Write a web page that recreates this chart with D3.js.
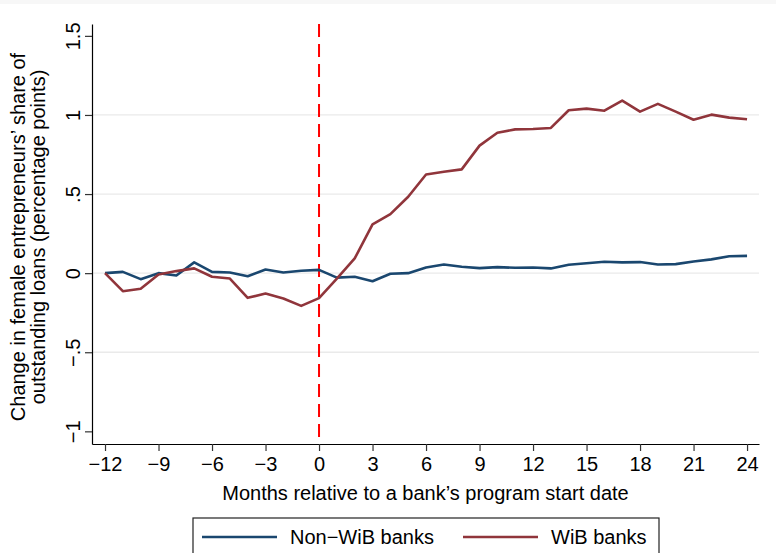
<!DOCTYPE html>
<html>
<head>
<meta charset="utf-8">
<script src="https://cdn.jsdelivr.net/npm/d3@7"></script>
<style>
  html, body { margin: 0; padding: 0; background: #fff; }
  svg { display: block; font-family: "Liberation Sans", Arial, Helvetica, sans-serif; }
</style>
</head>
<body>
<svg id="chart" width="776" height="553"></svg>
<script>
const months = [-12,-11,-10,-9,-8,-7,-6,-5,-4,-3,-2,-1,0,1,2,3,4,5,6,7,8,9,10,11,12,13,14,15,16,17,18,19,20,21,22,23,24];
const nonWiB = [0, 0.008, -0.038, 0, -0.015, 0.068, 0.008, 0.004, -0.019, 0.023, 0.004, 0.015, 0.021,
  -0.028, -0.023, -0.051, -0.004, 0, 0.036, 0.055, 0.04, 0.032, 0.038, 0.034, 0.036, 0.03,
  0.053, 0.063, 0.072, 0.068, 0.07, 0.055, 0.057, 0.074, 0.087, 0.107, 0.109];
const wib = [0, -0.114, -0.099, -0.008, 0.013, 0.03, -0.023, -0.034, -0.156, -0.129, -0.16, -0.207, -0.158,
  -0.035, 0.093, 0.308, 0.373, 0.483, 0.624, 0.641, 0.656, 0.806, 0.888, 0.909, 0.911, 0.918,
  1.03, 1.04, 1.027, 1.091, 1.021, 1.07, 1.021, 0.97, 1.002, 0.983, 0.973];
const xTicks = [-12,-9,-6,-3,0,3,6,9,12,15,18,21,24];
const yTicks = [-1,-0.5,0,0.5,1,1.5];
const yTickLabels = ["\u22121","\u2212.5","0",".5","1","1.5"];
const gridValues = [-0.5,0,0.5,1];
const seriesNames = ["Non\u2212WiB banks","WiB banks"];
const seriesColors = ["#1a476f","#90353b"];
const xTitle = "Months relative to a bank\u2019s program start date";
const yTitle = ["Change in female entrepreneurs\u2019 share of","outstanding loans (percentage points)"];
const eventMonth = 0;

const svg = d3.select("#chart");
const FS = 20;

svg.append("rect").attr("x",0).attr("y",0).attr("width",776).attr("height",4).attr("fill","#f7f7f7");

const x = d3.scaleLinear().domain([-12.73, 24.67]).range([92, 759]);
const y = d3.scaleLinear().domain([-1.08, 1.575]).range([444, 24]);

// gridlines
svg.append("g").selectAll("line").data(gridValues).join("line")
  .attr("x1", x.range()[0]).attr("x2", x.range()[1])
  .attr("y1", d => y(d)).attr("y2", d => y(d))
  .attr("stroke", "#eaeaea").attr("stroke-width", 1.3);

// x axis
const gx = svg.append("g").attr("transform", `translate(0,${y.range()[0]})`)
  .call(d3.axisBottom(x).tickValues(xTicks).tickSize(7).tickSizeOuter(0)
    .tickFormat(d => d < 0 ? "\u2212" + Math.abs(d) : String(d)));
gx.select(".domain").attr("stroke", "#000").attr("stroke-width", 1.2);
gx.selectAll(".tick line").attr("stroke", "#333").attr("stroke-width", 1.2);
gx.selectAll(".tick text").attr("y", 27).attr("dy", null)
  .attr("font-size", FS).attr("fill", "#000").attr("font-family", "Liberation Sans, Arial, sans-serif");

// y axis
const gy = svg.append("g").attr("transform", `translate(${x.range()[0]},0)`)
  .call(d3.axisLeft(y).tickValues(yTicks).tickSize(7).tickSizeOuter(0)
    .tickFormat((d, i) => yTickLabels[i]));
gy.select(".domain").attr("stroke", "#000").attr("stroke-width", 1.2);
gy.selectAll(".tick line").attr("stroke", "#333").attr("stroke-width", 1.2);
gy.selectAll(".tick text")
  .attr("x", 0).attr("y", 0).attr("dy", null)
  .attr("text-anchor", "middle")
  .attr("transform", "translate(-12,0) rotate(-90)")
  .attr("font-size", FS).attr("fill", "#000").attr("font-family", "Liberation Sans, Arial, sans-serif");

// event line
svg.append("line")
  .attr("x1", x(eventMonth)).attr("x2", x(eventMonth))
  .attr("y1", y.range()[1]).attr("y2", y.range()[0])
  .attr("stroke", "#ff0000").attr("stroke-width", 2).attr("stroke-dasharray", "13,7");

// series
const line = d3.line().x((d, i) => x(months[i])).y(d => y(d));
[nonWiB, wib].forEach((s, k) => {
  svg.append("path").datum(s).attr("d", line)
    .attr("fill", "none").attr("stroke", seriesColors[k]).attr("stroke-width", 2.6)
    .attr("stroke-linejoin", "round");
});

// axis titles
svg.append("text").attr("x", (x.range()[0] + x.range()[1]) / 2).attr("y", 500)
  .attr("text-anchor", "middle").attr("font-size", FS).attr("fill", "#000").text(xTitle);
const yc = (y.range()[0] + y.range()[1]) / 2 + 3;
yTitle.forEach((t, i) => {
  svg.append("text").attr("transform", `translate(${25 + i * 20},${yc}) rotate(-90)`)
    .attr("text-anchor", "middle").attr("font-size", FS).attr("fill", "#000").text(t);
});

// legend
const lg = svg.append("g");
lg.append("rect").attr("x", 193).attr("y", 518).attr("width", 466).attr("height", 60)
  .attr("fill", "#fff").attr("stroke", "#222").attr("stroke-width", 1.2);
const legX = [202, 463];
seriesNames.forEach((n, k) => {
  lg.append("line").attr("x1", legX[k]).attr("x2", legX[k] + 75).attr("y1", 537).attr("y2", 537)
    .attr("stroke", seriesColors[k]).attr("stroke-width", 2.6);
  lg.append("text").attr("x", legX[k] + 88).attr("y", 544).attr("font-size", FS).attr("fill", "#000").text(n);
});
</script>
</body>
</html>
